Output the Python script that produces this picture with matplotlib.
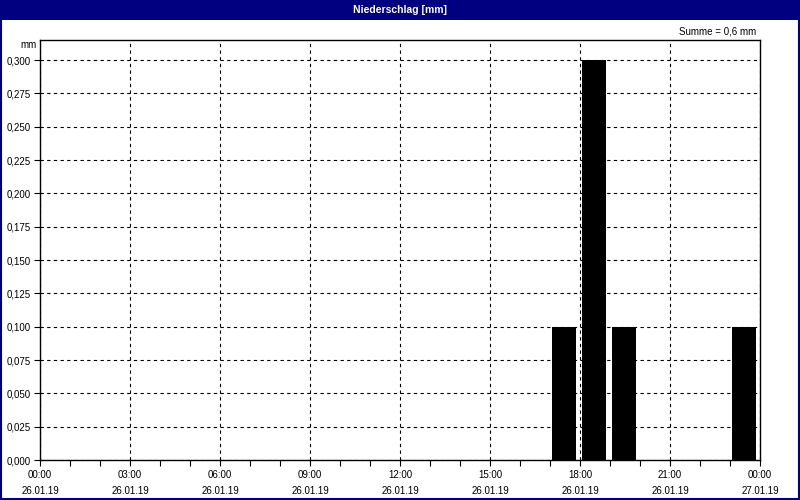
import numpy as np
import matplotlib
matplotlib.use("Agg")
import matplotlib.pyplot as plt
from matplotlib.patches import Rectangle

# Niederschlag pro Stunde (Stundenbeginn), 26.01.19
stunden = [17, 18, 19, 23]
werte = [0.1, 0.3, 0.1, 0.1]

tick_stunden = [0, 3, 6, 9, 12, 15, 18, 21, 24]
tick_zeiten = ["00:00", "03:00", "06:00", "09:00", "12:00", "15:00", "18:00", "21:00", "00:00"]
tick_daten = ["26.01.19"] * 8 + ["27.01.19"]

y_ticks = np.arange(0, 0.3001, 0.025)

titel = "Niederschlag [mm]"
summe = "Summe = 0,6 mm"

navy = "#000080"
plt.rcParams['font.family'] = ['Liberation Sans', 'DejaVu Sans']
fs = 7

fig = plt.figure(figsize=(8, 5), dpi=100)
fig.patch.set_facecolor("white")

# Titelbalken + Rahmen
fig.patches.append(Rectangle((0, 1 - 20/500), 1, 20/500, transform=fig.transFigure,
                             facecolor=navy, edgecolor="none", zorder=0))
fig.patches.append(Rectangle((0.001, 0.002), 0.998, 0.996, transform=fig.transFigure,
                             facecolor="none", edgecolor=navy, linewidth=1.5, zorder=5))
fig.text(0.5, 1 - 10/500, titel, color="white", fontsize=7.5, fontweight="bold",
         ha="center", va="center")
fig.text(756/800, 1 - 31/500, summe, fontsize=fs, ha="right", va="center")
fig.text(37/800, 1 - 45/500, "mm", fontsize=fs, ha="right", va="center")

ax = fig.add_axes([40/800, 40/500, 720/800, 420/500])
ax.bar([h + 0.47 for h in stunden], werte, width=0.8, color="black", zorder=3)

ax.set_xlim(0, 24)
ax.set_ylim(0, 0.315)

ax.set_xticks(tick_stunden)
ax.set_xticklabels([f"{z}\n{d}" for z, d in zip(tick_zeiten, tick_daten)],
                   fontsize=fs, linespacing=1.75)
ax.set_xticks(range(25), minor=True)
ax.set_yticks(y_ticks)
ax.set_yticklabels([f"{v:.3f}".replace(".", ",") for v in y_ticks], fontsize=fs)

ax.tick_params(axis="both", which="major", length=4, width=0.8, direction="out", pad=3)
ax.tick_params(axis="x", which="minor", length=4, width=0.8, direction="out")

ax.grid(True, which="major", color="black", linestyle=(0, (3, 3)), linewidth=0.8, zorder=1)
for s in ax.spines.values():
    s.set_color("black")
    s.set_linewidth(1)

fig.savefig("out.png", dpi=100)
